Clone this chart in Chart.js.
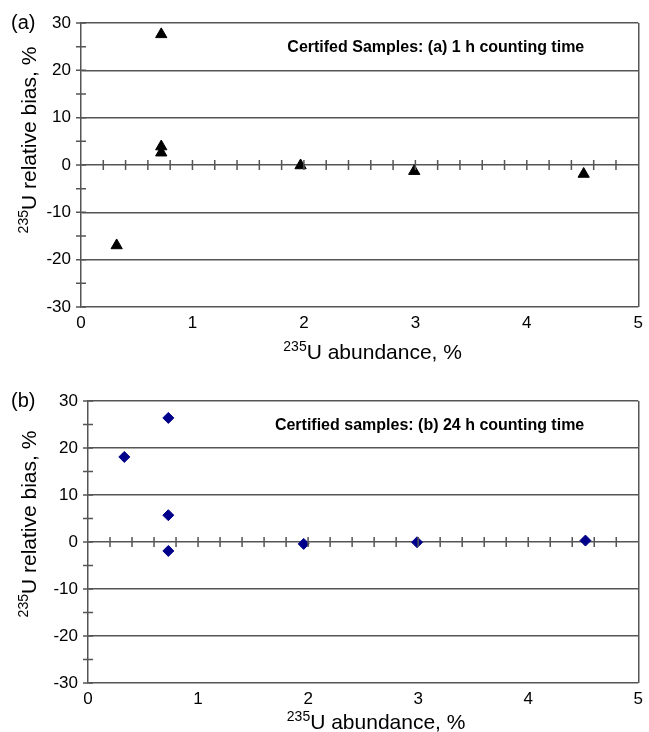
<!DOCTYPE html>
<html>
<head>
<meta charset="utf-8">
<script src="https://cdn.jsdelivr.net/npm/chart.js@4/dist/chart.umd.min.js"></script>
<style>
  body { margin: 0; background: #fff; }
  canvas { display: block; }
</style>
</head>
<body>
<canvas id="chartA" width="649" height="366"></canvas>
<canvas id="chartB" width="649" height="366"></canvas>
<script>
// panel (a): 1 h counting time
const abundA = [0.32, 0.72, 0.72, 0.72, 1.97, 2.99, 4.51];
const biasA  = [-17.0, 27.6, 3.9, 2.6, -0.1, -1.3, -1.9];
// panel (b): 24 h counting time
const abundB = [0.33, 0.73, 0.73, 0.73, 1.96, 2.99, 4.52];
const biasB  = [18.1, 26.4, 5.7, -1.9, -0.4, -0.05, 0.3];

const xRange = [0, 5];
const yRange = [-30, 30];

const FONT = "'Liberation Sans', Arial, sans-serif";
const LINE = '#555';

function supText(ctx, x, y, sup, main, size) {
    // draws "sup" as superscript in front of "main", centred on x
    ctx.font = `${Math.round(size * 0.66)}px ${FONT}`;
    const ws = ctx.measureText(sup).width;
    ctx.font = `${size}px ${FONT}`;
    const wm = ctx.measureText(main).width;
    let left = x - (ws + wm) / 2;
    ctx.textAlign = 'left';
    ctx.textBaseline = 'alphabetic';
    ctx.fillStyle = '#000';
    ctx.font = `${Math.round(size * 0.66)}px ${FONT}`;
    ctx.fillText(sup, left, y - size * 0.38);
    ctx.font = `${size}px ${FONT}`;
    ctx.fillText(main, left + ws, y);
}

const decor = {
    id: 'decor',
    afterDraw(chart, args, opts) {
        const { ctx, chartArea: ca, scales: { x, y } } = chart;
        ctx.save();
        ctx.strokeStyle = LINE;
        ctx.lineWidth = 1.5;
        ctx.beginPath();
        // crossing ticks on the zero line
        const y0 = y.getPixelForValue(0);
        for (let i = 1; i < 25; i++) {
            const px = x.getPixelForValue(i * 0.2);
            ctx.moveTo(px, y0 - 5);
            ctx.lineTo(px, y0 + 5);
        }
        // crossing ticks on the y axis
        for (let v = yRange[0]; v <= yRange[1]; v += 5) {
            const py = y.getPixelForValue(v);
            ctx.moveTo(ca.left - 5, py);
            ctx.lineTo(ca.left + 5, py);
        }
        ctx.stroke();

        // panel label
        ctx.fillStyle = '#000';
        ctx.font = `20px ${FONT}`;
        ctx.textAlign = 'left';
        ctx.textBaseline = 'middle';
        ctx.fillText(opts.label, 11, ca.top);

        // caption inside plot
        ctx.font = `bold 16px ${FONT}`;
        ctx.textAlign = 'right';
        ctx.fillText(opts.caption, ca.right - 54, ca.top + 25);

        // x title
        supText(ctx, (ca.left + ca.right) / 2 + 13, ca.bottom + opts.xTitleDy, '235', 'U abundance, %', 21);

        // y title (rotated)
        ctx.save();
        ctx.translate(36, ca.top + opts.yTitleDy);
        ctx.rotate(-Math.PI / 2);
        supText(ctx, 0, 0, '235', 'U relative bias, %', 21);
        ctx.restore();
        ctx.restore();
    }
};

function makeChart(id, xs, ys, style, pad, opts) {
    const pts = xs.map((v, i) => ({ x: v, y: ys[i] }));
    return new Chart(document.getElementById(id), {
        type: 'scatter',
        data: {
            datasets: [{
                data: pts,
                pointStyle: style.shape,
                pointRadius: style.r,
                pointHoverRadius: style.r,
                backgroundColor: style.color,
                borderColor: style.color,
                borderWidth: 1
            }]
        },
        plugins: [decor],
        options: {
            responsive: false,
            animation: false,
            events: [],
            layout: { padding: { left: 0, top: pad.top, right: pad.right, bottom: 0 } },
            plugins: {
                legend: { display: false },
                tooltip: { enabled: false },
                decor: opts
            },
            scales: {
                x: {
                    type: 'linear',
                    min: xRange[0], max: xRange[1],
                    ticks: { stepSize: 1, color: '#000', font: { family: FONT, size: 17 }, padding: 6 },
                    grid: {
                        drawTicks: false,
                        lineWidth: 1.5,
                        color: c => (c.tick && c.tick.value === xRange[1]) ? LINE : 'transparent'
                    },
                    border: { display: false },
                    afterFit: s => { s.height = pad.xh; }
                },
                y: {
                    min: yRange[0], max: yRange[1],
                    ticks: { stepSize: 10, color: '#000', font: { family: FONT, size: 17 }, padding: 10 },
                    grid: { drawTicks: false, color: LINE, lineWidth: 1.5 },
                    border: { display: true, color: LINE, width: 1.5 },
                    afterFit: s => { s.width = pad.left; }
                }
            }
        }
    });
}

makeChart('chartA', abundA, biasA,
    { shape: 'triangle', r: 6.5, color: '#000' },
    { top: 23, right: 8, left: 81, xh: 59 },
    { label: '(a)', caption: 'Certifed Samples: (a) 1 h counting time', xTitleDy: 52, yTitleDy: 117 });

makeChart('chartB', abundB, biasB,
    { shape: 'rectRot', r: 5.5, color: '#00008B' },
    { top: 35, right: 10, left: 88, xh: 49 },
    { label: '(b)', caption: 'Certified samples: (b) 24 h counting time', xTitleDy: 46, yTitleDy: 123 });
</script>
</body>
</html>
